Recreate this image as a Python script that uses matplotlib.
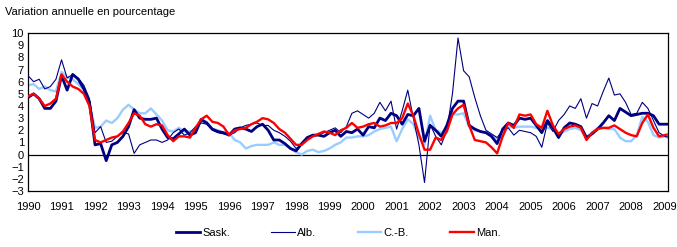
import numpy as np
import matplotlib
matplotlib.use('Agg')
import matplotlib.pyplot as plt

plt.rcParams['font.family'] = ['Liberation Sans', 'DejaVu Sans']

# bimonthly points, Jan 1990 .. Mar 2009 (6 values per year)
t = 1990 + np.arange(116) / 6.0

sask = [4.7, 5.0, 4.6, 3.8, 3.8, 4.4,   # 1990
        6.5, 5.3, 6.6, 6.2, 5.4, 4.3,   # 1991
        0.8, 0.9, -0.5, 0.8, 1.0, 1.5,  # 1992
        2.3, 3.7, 3.0, 2.9, 2.9, 3.0,   # 1993
        2.1, 1.4, 1.3, 1.7, 2.1, 1.6,   # 1994
        1.8, 2.9, 2.6, 2.1, 1.9, 1.8,   # 1995
        1.6, 2.1, 2.2, 2.1, 1.9, 2.3,   # 1996
        2.5, 2.0, 1.2, 1.2, 0.9, 0.5,   # 1997
        0.3, 0.9, 1.4, 1.6, 1.6, 1.5,   # 1998
        1.8, 2.0, 1.5, 1.9, 1.8, 2.1,   # 1999
        1.6, 2.3, 2.2, 3.0, 2.8, 3.4,   # 2000
        3.2, 2.5, 3.3, 3.2, 3.8, 1.1,   # 2001
        2.4, 2.0, 1.5, 2.4, 3.8, 4.4,   # 2002
        4.4, 2.4, 2.1, 1.9, 1.8, 1.5,   # 2003
        0.9, 2.1, 2.6, 2.4, 3.0, 2.9,   # 2004
        3.0, 2.4, 1.8, 2.8, 2.2, 1.4,   # 2005
        2.2, 2.6, 2.5, 2.3, 1.4, 1.7,   # 2006
        2.1, 2.6, 3.2, 2.8, 3.8, 3.5,   # 2007
        3.2, 3.3, 3.4, 3.4, 3.2, 2.5,   # 2008
        2.5, 2.5]                       # 2009

alb = [6.5, 6.0, 6.2, 5.4, 5.6, 6.2,
       7.8, 6.3, 6.6, 6.3, 5.7, 4.6,
       1.8, 2.3, 1.0, 1.1, 1.5, 1.8,
       1.7, 0.1, 0.8, 1.0, 1.2, 1.2,
       1.0, 1.2, 1.8, 2.1, 1.6, 1.8,
       2.3, 2.6, 2.5, 2.0, 1.8, 1.7,
       1.6, 1.8, 2.2, 2.4, 2.5, 2.6,
       2.4, 2.4, 2.0, 1.8, 1.5, 1.1,
       0.5, 0.8, 1.3, 1.5, 1.6, 1.8,
       2.0, 2.2, 1.8, 2.3, 3.4, 3.6,
       3.3, 3.0, 3.4, 4.3, 3.6, 4.4,
       2.1, 3.6, 5.3, 3.0, 0.8, -2.3,
       2.5, 1.5, 0.8, 2.0, 5.0, 9.6,
       6.9, 6.4, 4.7, 3.2, 2.0, 1.7,
       1.4, 2.0, 2.2, 1.6, 2.0, 1.9,
       1.8, 1.5, 0.6, 2.6, 1.9, 2.8,
       3.3, 4.0, 3.8, 4.6, 3.0, 4.2,
       4.0, 5.2, 6.3, 4.9, 5.0, 4.3,
       3.3, 3.4, 4.3, 3.8, 2.8, 1.8,
       1.5, 1.4]

cb = [5.7, 5.8, 5.4, 5.6, 5.3, 5.2,
      6.8, 6.4, 6.2, 5.8, 5.3, 4.2,
      2.2, 2.3, 2.8, 2.6, 3.0, 3.7,
      4.1, 3.7, 3.4, 3.4, 3.8, 3.3,
      2.8, 2.0, 1.9, 2.2, 1.9, 1.9,
      2.0, 2.7, 2.7, 2.1, 2.0, 1.8,
      1.8, 1.2, 1.0, 0.5, 0.7, 0.8,
      0.8, 0.8, 1.0, 0.8, 0.8, 0.5,
      0.2, 0.0, 0.3, 0.4, 0.2, 0.3,
      0.5, 0.8, 1.0, 1.4, 1.4, 1.5,
      1.5, 1.6, 1.9, 2.1, 2.2, 2.3,
      1.1, 2.1, 2.9, 2.5, 1.4, 0.8,
      3.2, 2.0, 1.8, 2.1, 3.3, 3.3,
      3.4, 2.3, 2.0, 1.9, 1.8, 1.6,
      1.3, 1.5, 2.3, 2.2, 2.3, 2.3,
      2.3, 2.2, 2.1, 2.2, 2.1, 1.7,
      1.9, 2.1, 2.2, 2.0, 1.4, 1.8,
      2.2, 2.2, 2.1, 2.1, 1.4, 1.1,
      1.1, 1.6, 3.1, 2.7, 1.6, 1.4,
      1.5, 1.3]

man = [4.8, 5.0, 4.6, 4.0, 4.2, 4.6,
       6.6, 6.0, 5.6, 5.4, 5.0, 4.0,
       1.2, 1.0, 1.2, 1.4, 1.5, 1.9,
       2.6, 3.4, 3.2, 2.5, 2.3, 2.5,
       2.4, 1.6, 1.1, 1.5, 1.5, 1.4,
       2.2, 2.9, 3.2, 2.7, 2.6, 2.3,
       1.6, 2.0, 2.1, 2.2, 2.5, 2.7,
       3.0, 2.9, 2.6, 2.1, 1.8, 1.3,
       0.8, 0.8, 1.2, 1.5, 1.7, 1.9,
       1.8, 1.6, 2.0, 2.2, 2.6, 2.2,
       2.3, 2.5, 2.6, 2.3, 2.4, 2.6,
       2.6, 3.0, 4.2, 3.2, 1.7, 0.4,
       0.4, 1.4, 1.2, 1.9, 3.3, 3.8,
       4.1, 2.4, 1.2, 1.1, 1.0, 0.6,
       0.1, 1.5, 2.6, 2.2, 3.3, 3.2,
       3.3, 2.5, 2.2, 3.6, 2.4, 1.7,
       2.1, 2.3, 2.4, 2.2, 1.2, 1.8,
       2.1, 2.2, 2.2, 2.4, 2.1, 1.8,
       1.6, 1.5, 2.6, 3.3, 2.2, 1.5,
       1.6, 1.7]

years = list(range(1990, 2010))

fig = plt.figure(figsize=(6.77, 2.47), dpi=100)
ax = fig.add_axes([0.0414, 0.2267, 0.9453, 0.6393])

ax.plot(t, cb, color='#99ccff', lw=1.7, label='C.-B.', zorder=2)
ax.plot(t, alb, color='#000080', lw=0.8, label='Alb.', zorder=3)
ax.plot(t, sask, color='#000080', lw=2.0, label='Sask.', zorder=4)
ax.plot(t, man, color='#ff0000', lw=1.7, label='Man.', zorder=5)
ax.axhline(0, color='black', lw=0.9, zorder=1)

ax.set_xlim(1990, 2009.1)
ax.set_ylim(-3, 10)
ax.set_yticks(range(-3, 11))
ax.set_xticks(years)
ax.set_xticklabels([str(y) for y in years])
ax.tick_params(length=0, labelsize=8, pad=3)
ax.tick_params(axis='x', pad=8)
for s in ax.spines.values():
    s.set_linewidth(0.9)

fig.text(0.007, 0.95, 'Variation annuelle en pourcentage', fontsize=8, va='center')

h, l = ax.get_legend_handles_labels()
order = [2, 1, 0, 3]
fig.legend([h[i] for i in order], [l[i] for i in order], loc='center',
           bbox_to_anchor=(0.5, 0.057), ncol=4, frameon=False, fontsize=8,
           handlelength=2.15, handletextpad=0.2, columnspacing=3.7)

fig.savefig('out.png', dpi=100)
